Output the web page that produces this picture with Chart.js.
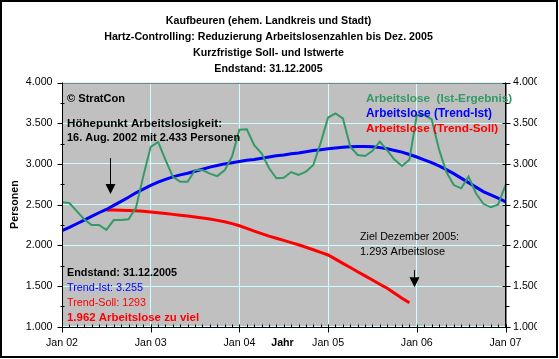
<!DOCTYPE html>
<html><head><meta charset="utf-8">
<script src="https://cdn.jsdelivr.net/npm/chart.js@4"></script>
<style>html,body{margin:0;padding:0;background:#fff;overflow:hidden}</style>
</head><body>
<canvas id="c" width="559" height="359" style="display:block;width:559px;height:359px"></canvas>
<script>
// ---- text ----
const titleLines = [
  'Kaufbeuren (ehem. Landkreis und Stadt)',
  'Hartz-Controlling: Reduzierung Arbeitslosenzahlen bis Dez. 2005',
  'Kurzfristige Soll- und Istwerte',
  'Endstand: 31.12.2005'
];
const seriesNames = ['Arbeitslose  (Ist-Ergebnis)', 'Arbeitslose (Trend-Ist)', 'Arbeitslose (Trend-Soll)'];
const xTickLabels = ['Jan 02', 'Jan 03', 'Jan 04', 'Jan 05', 'Jan 06', 'Jan 07'];
const yTickLabels = ['1.000', '1.500', '2.000', '2.500', '3.000', '3.500', '4.000'];

// ---- data: monthly values from Jan 2002 (month index 0) to Jan 2007 (60) ----
const istErgebnis = [
  2530, 2520, 2420, 2320, 2250, 2250, 2190, 2310, 2310, 2320, 2460, 2850,
  3210, 3270, 3050, 2840, 2780, 2780, 2925, 2925, 2880, 2850, 2920, 3090,
  3420, 3425, 3230, 3130, 2950, 2823, 2830, 2900, 2864, 2905, 2986, 3260,
  3570, 3620, 3560, 3211, 3110, 3097, 3160, 3273, 3165, 3050, 2974, 3050,
  3600, 3600, 3550, 3180, 2900, 2740, 2700, 2843, 2640, 2510, 2467, 2500,
  2741
];
const trendIst = [
  2180, 2220, 2265, 2310, 2355, 2400, 2440, 2490, 2540, 2590, 2645, 2690,
  2735, 2775, 2810, 2840, 2865, 2885, 2910, 2935, 2960, 2980, 3000, 3015,
  3030, 3045, 3055, 3070, 3085, 3100, 3110, 3125, 3135, 3150, 3165, 3175,
  3185, 3195, 3205, 3210, 3215, 3215, 3210, 3200, 3185, 3165, 3145, 3115,
  3085, 3050, 3015, 2975, 2930, 2880, 2825, 2770, 2715, 2660, 2620, 2580,
  2536
];
const trendSollStartMonth = 6; // Jul 2002
const trendSoll = [
  2433, 2433, 2432, 2429, 2424, 2417, 2409, 2399, 2390, 2380, 2370, 2360,
  2348, 2336, 2322, 2306, 2290, 2266, 2240, 2207, 2175, 2143, 2112, 2086,
  2060, 2033, 2007, 1976, 1945, 1913, 1881, 1830, 1778, 1727, 1675, 1624,
  1573, 1522, 1472, 1410, 1350, 1293
];

const FONT = '"Liberation Sans", Arial, sans-serif';
const FS = 10.67;
const GREEN = '#339966', BLUE = '#0000FF', RED = '#FF0000';

const toXY = (arr, start) => arr.map((v, i) => ({ x: start + i, y: v }));

const decor = {
  id: 'decor',
  beforeDraw(chart) {
    const { ctx, chartArea: a } = chart;
    ctx.save();
    ctx.fillStyle = '#fff';
    ctx.fillRect(0, 0, chart.width, chart.height);
    ctx.fillStyle = '#C0C0C0';
    ctx.fillRect(a.left, a.top, a.right - a.left, a.bottom - a.top);
    ctx.restore();
  },
  afterDatasetsDraw(chart) {
    const { ctx, chartArea: a, scales } = chart;
    const sx = scales.x, sy = scales.y;
    ctx.save();
    // plot border
    ctx.strokeStyle = '#808080'; ctx.lineWidth = 1;
    ctx.strokeRect(Math.round(a.left) + 0.5, Math.round(a.top) + 0.5, Math.round(a.right - a.left), Math.round(a.bottom - a.top));
    // axes
    ctx.strokeStyle = '#000'; ctx.lineWidth = 1;
    const L = Math.round(a.left) + 0.5, R = Math.round(a.right) - 0.5, B = Math.round(a.bottom) + 0.5;
    ctx.beginPath();
    ctx.moveTo(L, a.top); ctx.lineTo(L, B);
    ctx.moveTo(R, a.top); ctx.lineTo(R, B);
    ctx.moveTo(L, B); ctx.lineTo(R, B);
    for (let v = 1000; v <= 4000; v += 250) {
      const y = Math.round(sy.getPixelForValue(v)) + 0.5;
      if (v % 500 === 0) {
        ctx.moveTo(L - 5, y); ctx.lineTo(L, y);
        ctx.moveTo(R - 3, y); ctx.lineTo(R + 5, y);
      } else {
        ctx.moveTo(L - 2, y); ctx.lineTo(L + 2, y);
        ctx.moveTo(R, y); ctx.lineTo(R + 4, y);
      }
    }
    for (let m = 0; m <= 60; m++) {
      const x = Math.round(sx.getPixelForValue(m)) + 0.5;
      if (m % 12 === 0) { ctx.moveTo(x, B - 3); ctx.lineTo(x, B + 5); }
      else { ctx.moveTo(x, B - 3); ctx.lineTo(x, B); }
    }
    ctx.stroke();

    // arrows
    const arrow = (xv, yFrom, yTo) => {
      const x = Math.round(sx.getPixelForValue(xv)) + 0.5;
      const y1 = sy.getPixelForValue(yFrom), y2 = sy.getPixelForValue(yTo);
      ctx.strokeStyle = '#000'; ctx.lineWidth = 1;
      ctx.beginPath(); ctx.moveTo(x, y1); ctx.lineTo(x, y2 - 8); ctx.stroke();
      ctx.fillStyle = '#000';
      ctx.beginPath(); ctx.moveTo(x - 5, y2 - 10); ctx.lineTo(x + 5, y2 - 10); ctx.lineTo(x, y2); ctx.closePath(); ctx.fill();
    };
    arrow(6.5, 3072, 2630);
    arrow(47.65, 1697, 1484);

    // texts (size fitted to the width of the reference text box)
    ctx.textBaseline = 'middle'; ctx.textAlign = 'left';
    const t = (s, x, y, color, bold, w) => {
      const wt = bold ? 'bold ' : '';
      ctx.font = wt + FS + 'px ' + FONT;
      let size = FS;
      if (w) { size = Math.max(9.5, Math.min(12.5, FS * w / ctx.measureText(s).width)); }
      ctx.font = wt + size.toFixed(2) + 'px ' + FONT;
      ctx.fillStyle = color; ctx.fillText(s, x, y);
    };
    t('© StratCon', 67, 99, '#000', true, 58);
    t('Höhepunkt Arbeitslosigkeit:', 67, 123.5, '#000', true, 155);
    t('16. Aug. 2002 mit 2.433 Personen', 67, 138, '#000', true, 173);
    t(seriesNames[0], 366, 99, GREEN, true, 146);
    t(seriesNames[1], 366, 114, BLUE, true, 126);
    t(seriesNames[2], 366, 129, RED, true, 132);
    t('Endstand: 31.12.2005', 67, 272.7, '#000', true, 110);
    t('Trend-Ist: 3.255', 67, 287.7, BLUE, false, 76);
    t('Trend-Soll: 1293', 67, 302.7, RED, false, 79);
    t('1.962 Arbeitslose zu viel', 67, 317.7, RED, true, 132);
    t('Ziel Dezember 2005:', 360, 237.3, '#000', false, 99);
    t('1.293 Arbeitslose', 360, 252.3, '#000', false, 85);
    ctx.textAlign = 'center';
    t('Jahr', 282.5, 343, '#000', true);

    // outer border
    ctx.strokeStyle = '#000'; ctx.lineWidth = 2;
    ctx.strokeRect(1, 1, 556, 356);
    ctx.restore();
  }
};

new Chart(document.getElementById('c'), {
  type: 'line',
  data: {
    datasets: [
      { label: seriesNames[0], data: toXY(istErgebnis, 0), borderColor: GREEN, borderWidth: 2, pointRadius: 0, tension: 0, yAxisID: 'y' },
      { label: seriesNames[1], data: toXY(trendIst, 0), borderColor: BLUE, borderWidth: 3, pointRadius: 0, tension: 0, yAxisID: 'y' },
      { label: seriesNames[2], data: toXY(trendSoll, trendSollStartMonth), borderColor: RED, borderWidth: 3, pointRadius: 0, tension: 0, yAxisID: 'y' }
    ]
  },
  options: {
    responsive: false,
    animation: false,
    devicePixelRatio: 1,
    layout: { padding: { left: 0, top: 0, bottom: 0, right: 22 } },
    plugins: {
      legend: { display: false },
      tooltip: { enabled: false },
      title: {
        display: true,
        text: titleLines,
        color: '#000',
        font: { family: FONT, size: FS, weight: 'bold', lineHeight: '16px' },
        padding: { top: 13, bottom: 5.5 }
      }
    },
    scales: {
      x: {
        type: 'linear', min: 0, max: 60,
        afterFit: s => { s.height = 32.3; },
        grid: { color: '#CCFFFF', drawTicks: false },
        border: { display: false },
        ticks: {
          stepSize: 12, padding: 10, color: '#000', maxRotation: 0,
          font: { family: FONT, size: FS },
          callback: v => xTickLabels[v / 12]
        }
      },
      y: {
        position: 'left', min: 1000, max: 4000,
        afterFit: s => { s.width = 62; },
        grid: { color: '#CCFFFF', drawTicks: false },
        border: { display: false },
        title: { display: true, text: 'Personen', color: '#000', padding: { top: 9, bottom: 0 },
                 font: { family: FONT, size: FS, weight: 'bold' } },
        ticks: {
          stepSize: 500, padding: 9.5, color: '#000',
          font: { family: FONT, size: FS },
          callback: v => yTickLabels[(v - 1000) / 500]
        }
      },
      y2: {
        position: 'right', min: 1000, max: 4000,
        afterFit: s => { s.width = 31.5; },
        grid: { display: false, drawTicks: false },
        border: { display: false },
        ticks: {
          stepSize: 500, padding: 7.5, color: '#000',
          font: { family: FONT, size: FS },
          callback: v => yTickLabels[(v - 1000) / 500]
        }
      }
    }
  },
  plugins: [decor]
});
</script>
</body></html>
